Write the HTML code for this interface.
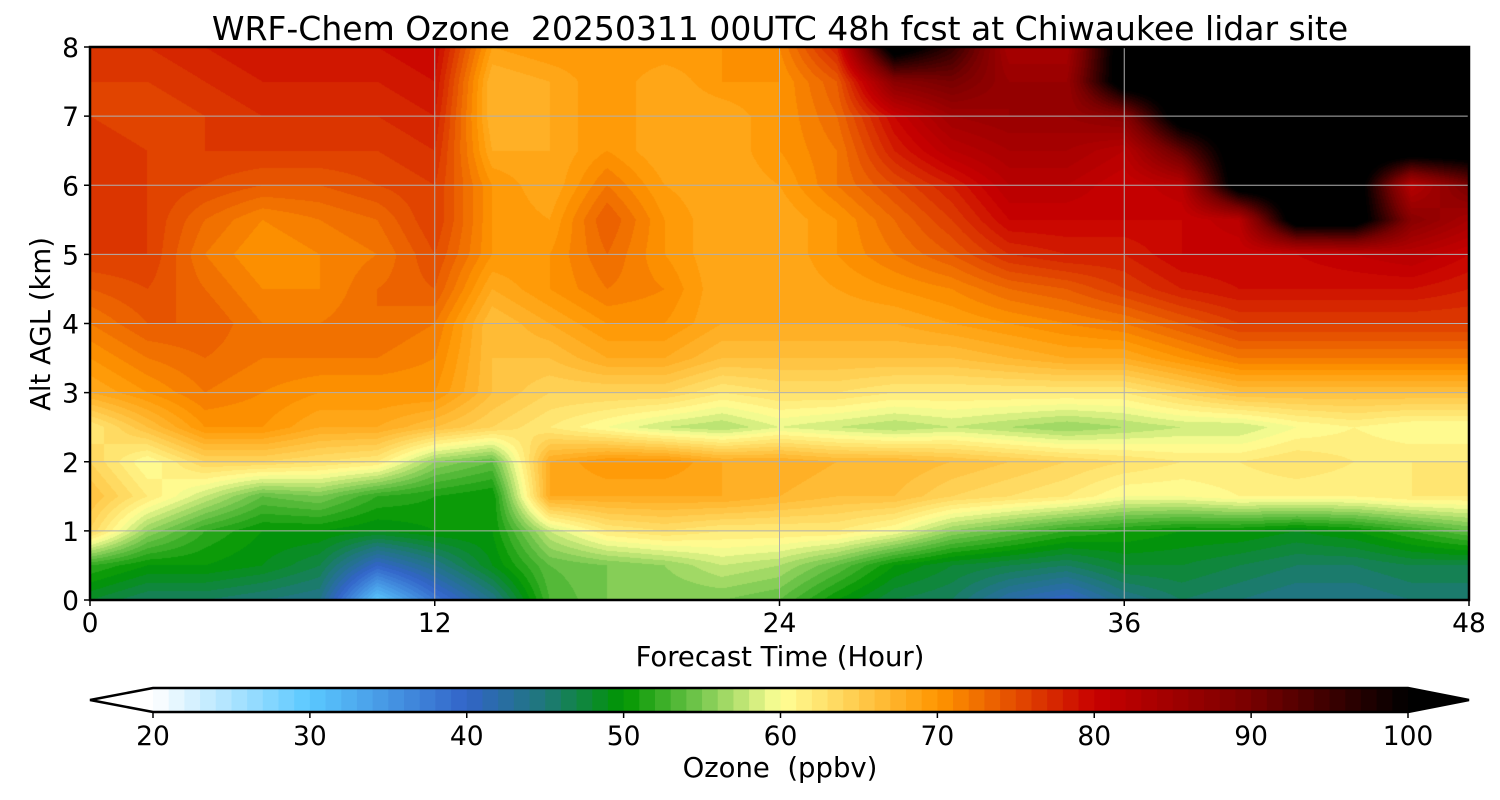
<!DOCTYPE html>
<html><head><meta charset="utf-8">
<style>
body{margin:0;background:#fff;width:1500px;height:800px;overflow:hidden;font-family:"Liberation Sans","DejaVu Sans",sans-serif;}
svg text{font-family:"DejaVu Sans","Liberation Sans",sans-serif;fill:#000;white-space:pre}
#wrap{position:relative;width:1500px;height:800px}
canvas{position:absolute;left:90px;top:47px}
svg{position:absolute;left:0;top:0}
</style></head><body>
<div id="wrap">
<canvas id="cv" width="1379" height="553"></canvas>
<svg id="sv" width="1500" height="800"></svg>
</div>
<script>
// forecast hours (columns) and altitudes (rows, km)
const hours=[0,2,4,6,8,10,12,14,16,18,20,22,24,26,28,30,32,34,36,38,40,42,44,46,48];
const alts=[0,0.5,1,1.5,2,2.5,3,3.5,4,4.5,5,5.5,6,6.5,7,7.5,8];
// ozone ppbv, one row per hour, values at alts
const ozone=[
[48,52,64,66,64,62,68,70,72,74,76,77,77,77,76,76,77],
[46,50,56,62,60,66,70,72,74,75,76,76,76,76,75,76,77],
[46,50,52,58,64,70,72,73,74,73,72,73,75,76,76,77,78],
[45,49,50,54,64,70,71,72,72,71,70,71,74,76,77,78,79],
[44,47,50,55,63,68,70,72,72,71,71,72,74,76,77,78,79],
[30,40,49,52,62,68,70,72,73,73,72,73,75,76,77,78,79],
[38,44,50,51,56,66,70,71,72,74,75,76,76,77,78,79,80],
[44,49,50,50,54,64,66,66,66,68,70,70,70,68,67,67,69],
[53,54,58,68,68,62,64,66,68,70,70,69,68,68,68,68,70],
[55,55,62,68,70,60,64,68,70,72,73,74,72,70,70,70,70],
[55,56,63,68,70,58,64,68,70,71,70,70,69,68,68,68,70],
[55,58,62,68,68,57,62,66,68,68,68,68,68,68,68,70,70],
[54,57,62,67,68,59,63,66,68,68,68,68,69,70,70,70,71],
[50,54,62,66,67,58,63,66,68,69,70,70,72,72,73,74,78],
[47,50,60,66,67,57,62,66,68,70,72,73,75,78,80,88,104],
[46,48,56,64,66,58,62,66,69,71,74,76,78,82,85,90,96],
[42,47,54,63,65,57,62,67,70,73,77,80,82,84,86,86,84],
[40,46,52,62,64,56,62,68,71,74,78,80,82,84,86,86,84],
[44,48,51,60,63,57,62,68,72,76,78,80,80,82,88,104,104],
[46,48,50,60,62,58,64,70,74,78,80,80,82,92,104,104,104],
[45,47,50,61,62,58,66,72,76,79,80,82,104,104,104,104,104],
[44,46,49,61,63,60,66,72,76,79,80,104,104,104,104,104,104],
[44,46,50,61,62,61,66,72,76,79,81,104,104,104,104,104,104],
[45,47,52,62,62,60,66,72,76,79,82,88,82,104,104,104,104],
[45,47,54,62,62,60,66,72,76,78,80,84,90,104,104,104,104]
];
const xTicks=[0,12,24,36,48];
const yTicks=[0,1,2,3,4,5,6,7,8];
const cbTicks=[20,30,40,50,60,70,80,90,100];
const cmapStops=[[20,[255,255,255]],[30,[90,200,255]],[40,[50,100,200]],[45,[30,120,120]],[50,[0,150,0]],[55,[120,200,80]],[60,[255,255,150]],[70,[255,150,0]],[80,[200,0,0]],[90,[120,0,0]],[100,[0,0,0]]];
function cmap(v){
  v=Math.floor(v);
  if(v<20) return [255,255,255];
  if(v>=100) return [0,0,0];
  v=v+0.5;
  for(let i=0;i<cmapStops.length-1;i++){
    const a=cmapStops[i],b=cmapStops[i+1];
    if(v>=a[0]&&v<=b[0]){const t=(v-a[0])/(b[0]-a[0]);return a[1].map((c,k)=>Math.round(c+(b[1][k]-c)*t));}
  }
  return [0,0,0];
}
const PX0=90,PX1=1469,PY0=600,PY1=47;
const xs=h=>PX0+(h-hours[0])/(hours[hours.length-1]-hours[0])*(PX1-PX0);
const ys=z=>PY0-(z-alts[0])/(alts[alts.length-1]-alts[0])*(PY0-PY1);
(function(){
  const cv=document.getElementById('cv'),ctx=cv.getContext('2d');
  const W=cv.width,H=cv.height,img=ctx.createImageData(W,H);
  const nH=hours.length,nA=alts.length;
  for(let py=0;py<H;py++){
    const z=alts[0]+(PY0-(PY1+py+0.5))/(PY0-PY1)*(alts[nA-1]-alts[0]);
    let fj=(z-alts[0])/(alts[1]-alts[0]);fj=Math.max(0,Math.min(nA-1.001,fj));
    const j=Math.floor(fj),tj=fj-j;
    for(let px=0;px<W;px++){
      const h=hours[0]+(px+0.5)/W*(hours[nH-1]-hours[0]);
      let fi=(h-hours[0])/(hours[1]-hours[0]);fi=Math.max(0,Math.min(nH-1.001,fi));
      const i=Math.floor(fi),ti=fi-i;
      const v=(ozone[i][j]*(1-ti)+ozone[i+1][j]*ti)*(1-tj)+(ozone[i][j+1]*(1-ti)+ozone[i+1][j+1]*ti)*tj;
      const c=cmap(v),k=(py*W+px)*4;
      img.data[k]=c[0];img.data[k+1]=c[1];img.data[k+2]=c[2];img.data[k+3]=255;
    }
  }
  ctx.putImageData(img,0,0);
})();
const NS='http://www.w3.org/2000/svg',sv=document.getElementById('sv');
function mk(t,a,txt){const e=document.createElementNS(NS,t);for(const k in a)e.setAttribute(k,a[k]);if(txt!==undefined)e.textContent=txt;sv.appendChild(e);return e;}
xTicks.forEach(h=>{
  const l=mk('line',{x1:xs(h),x2:xs(h),y1:PY1,y2:PY0,stroke:'#b0b0b0','stroke-width':1});
  
  
  const tk=mk('line',{x1:xs(h),x2:xs(h),y1:PY0,y2:PY0+6,stroke:'#000','stroke-width':1.5});
  
  
  const t=mk('text',{x:xs(h),y:632,'font-size':26.5,'text-anchor':'middle'},h);
  
  
});
yTicks.forEach(z=>{
  const l=mk('line',{x1:PX0,x2:PX1,y1:ys(z),y2:ys(z),stroke:'#b0b0b0','stroke-width':1});
  
  
  const tk=mk('line',{x1:PX0-6,x2:PX0,y1:ys(z),y2:ys(z),stroke:'#000','stroke-width':1.5});
  
  
  const t=mk('text',{x:79,y:ys(z)+10,'font-size':26.5,'text-anchor':'end'},z);
  
  
});
const fr=mk('rect',{x:PX0,y:PY1,width:PX1-PX0,height:PY0-PY1,fill:'none',stroke:'#000','stroke-width':2.5});


const ti=mk('text',{x:780,y:40,'font-size':33,'text-anchor':'middle'},'WRF-Chem Ozone  20250311 00UTC 48h fcst at Chiwaukee lidar site');


const xl=mk('text',{x:780,y:666,'font-size':27.5,'text-anchor':'middle'},'Forecast Time (Hour)');


const yl=mk('text',{x:0,y:0,'font-size':27.5,'text-anchor':'middle',transform:'translate(50,324) rotate(-90)'},'Alt AGL (km)');


const CB0=153,CB1=1408,CBY0=688,CBY1=712;
const cbx=v=>CB0+(v-20)/80*(CB1-CB0);
for(let v=20;v<100;v++){
  const c=cmap(v);
  const r=mk('rect',{x:cbx(v),y:CBY0,width:cbx(v+1)-cbx(v)+0.6,height:CBY1-CBY0,fill:`rgb(${c})`});
  
  
}
const tl=mk('polygon',{points:`${CB0},${CBY0} 90,700 ${CB0},${CBY1}`,fill:'#fff'});


const tr=mk('polygon',{points:`${CB1},${CBY0} 1469,700 ${CB1},${CBY1}`,fill:'#000'});


const ol=mk('polygon',{points:`${CB0},${CBY0} ${CB1},${CBY0} 1469,700 ${CB1},${CBY1} ${CB0},${CBY1} 90,700`,fill:'none',stroke:'#000','stroke-width':2.5});


cbTicks.forEach(v=>{
  const tk=mk('line',{x1:cbx(v),x2:cbx(v),y1:CBY1,y2:CBY1+6,stroke:'#000','stroke-width':1.5});
  
  
  const t=mk('text',{x:cbx(v),y:745,'font-size':26.5,'text-anchor':'middle'},v);
  
  
});
const cl=mk('text',{x:780,y:777,'font-size':27.5,'text-anchor':'middle'},'Ozone  (ppbv)');


</script>
</body></html>
